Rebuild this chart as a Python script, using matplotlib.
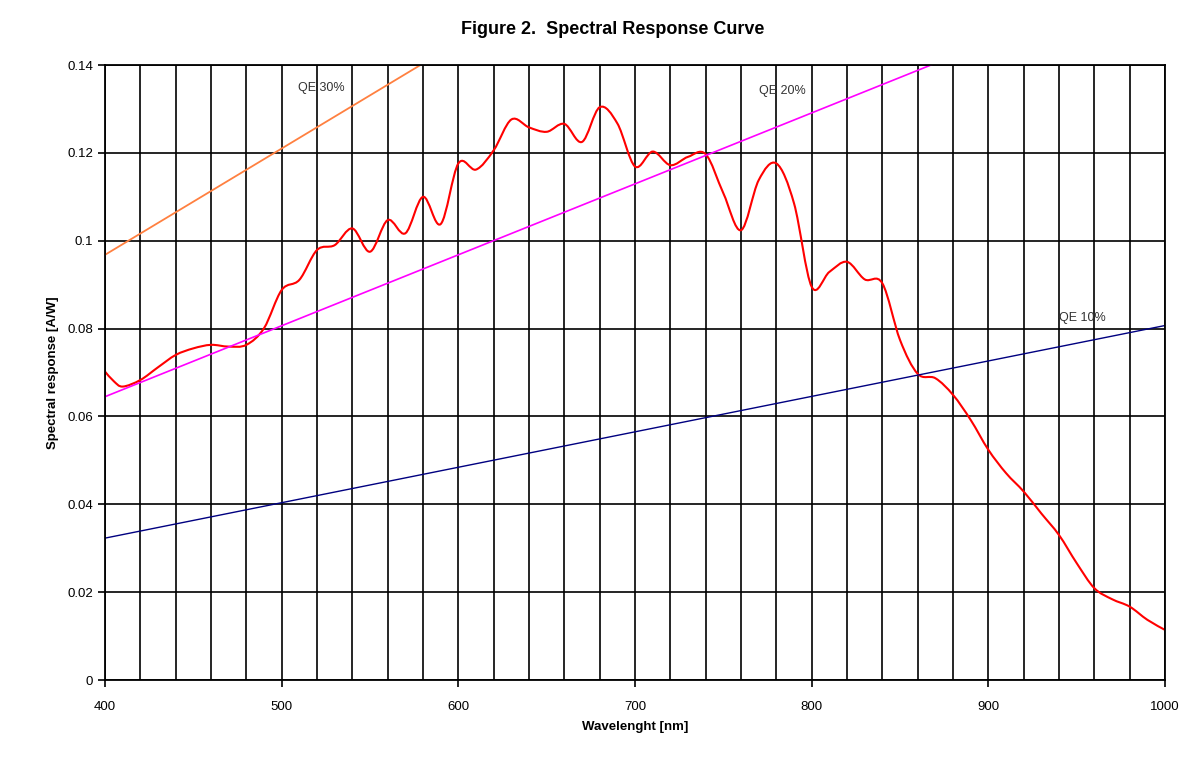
import numpy as np
import matplotlib
matplotlib.use("Agg")
import matplotlib.pyplot as plt
from matplotlib.path import Path
import matplotlib.patches as patches

plt.rcParams['font.family'] = ['Liberation Sans', 'DejaVu Sans']

wavelength = [400, 405, 410, 420, 430, 440, 450, 460, 470, 480, 490, 500, 510, 520,
              530, 540, 550, 560, 570, 580, 590, 600, 610, 620, 630, 640, 650, 660,
              670, 680, 690, 700, 710, 720, 730, 740, 750, 760, 770, 780, 790, 800,
              810, 820, 830, 840, 850, 860, 870, 880, 890, 900, 910, 920, 930, 940,
              950, 960, 970, 980, 990, 1000]
response = [0.0702, 0.0680, 0.0668, 0.0683, 0.0712, 0.0740, 0.0755, 0.0763, 0.0759,
            0.0763, 0.0801, 0.0888, 0.0911, 0.0979, 0.0990, 0.1028, 0.0975, 0.1047,
            0.1017, 0.1100, 0.1038, 0.1176, 0.1162, 0.1206, 0.1276, 0.1258, 0.1248,
            0.1266, 0.1225, 0.1304, 0.1267, 0.1169, 0.1203, 0.1172, 0.1191, 0.1197,
            0.1108, 0.1024, 0.1138, 0.1176, 0.1085, 0.0895, 0.0929, 0.0952, 0.0912,
            0.0903, 0.0774, 0.0697, 0.0687, 0.0649, 0.0592, 0.0524, 0.0471, 0.0429,
            0.0379, 0.0330, 0.0266, 0.0209, 0.0184, 0.0167, 0.0137, 0.0114]

# quantum efficiency reference lines (end points)
qe_x = [400, 1000]
qe10 = [0.0323, 0.0807]
qe20 = [0.0645, 0.1614]
qe30 = [0.0968, 0.2420]


def smooth_path(x, y):
    # Excel-like smoothed line: cubic bezier through every point
    x = np.asarray(x, float)
    y = np.asarray(y, float)
    verts = [(x[0], y[0])]
    codes = [Path.MOVETO]
    n = len(x)
    for i in range(n - 1):
        i0 = max(i - 1, 0)
        i3 = min(i + 2, n - 1)
        c1 = (x[i] + (x[i + 1] - x[i0]) / 6, y[i] + (y[i + 1] - y[i0]) / 6)
        c2 = (x[i + 1] - (x[i3] - x[i]) / 6, y[i + 1] - (y[i3] - y[i]) / 6)
        verts += [c1, c2, (x[i + 1], y[i + 1])]
        codes += [Path.CURVE4] * 3
    return Path(verts, codes)


fig = plt.figure(figsize=(11.91, 7.65), dpi=100)
ax = fig.add_axes([0.0882, 0.1111, 0.8900, 0.8039])

ax.set_xticks(np.arange(400, 1001, 20), minor=True)
ax.set_xticks(np.arange(400, 1001, 100))
ax.set_yticks(np.arange(0, 0.1401, 0.02))
ax.grid(True, which='both', color='black', lw=1.2)
ax.set_axisbelow(True)

ax.plot(qe_x, qe30, color='#FF8040', lw=1.3)
ax.plot(qe_x, qe20, color='#FF00FF', lw=1.2)
ax.plot(qe_x, qe10, color='#000080', lw=1.0)
ax.add_patch(patches.PathPatch(smooth_path(wavelength, response), facecolor='none',
                               edgecolor='#FF0000', lw=1.5))

ax.text(509, 0.1348, 'QE 30%', fontsize=9, color='#333333', va='center')
ax.text(770, 0.1340, 'QE 20%', fontsize=9, color='#333333', va='center')
ax.text(940, 0.0824, 'QE 10%', fontsize=9, color='#333333', va='center')

ax.set_xlim(400, 1000)
ax.set_ylim(0, 0.14)
ax.set_yticklabels(['0', '0.02', '0.04', '0.06', '0.08', '0.1', '0.12', '0.14'])
ax.tick_params(axis='both', which='major', labelsize=9.5, length=5, width=1.2, direction='out')
ax.tick_params(axis='x', which='minor', length=0)
ax.tick_params(axis='x', pad=10)
for s in ax.spines.values():
    s.set_linewidth(1.3)

ax.set_xlabel('Wavelenght [nm]', fontsize=9.5, fontweight='bold', labelpad=6)
ax.set_ylabel('Spectral response [A/W]', fontsize=9.5, fontweight='bold', labelpad=6)
fig.text(613 / 1191, 1 - 30 / 765, 'Figure 2.  Spectral Response Curve',
         fontsize=13, fontweight='bold', ha='center', va='center')

fig.savefig('out.png', dpi=100, facecolor='white')
